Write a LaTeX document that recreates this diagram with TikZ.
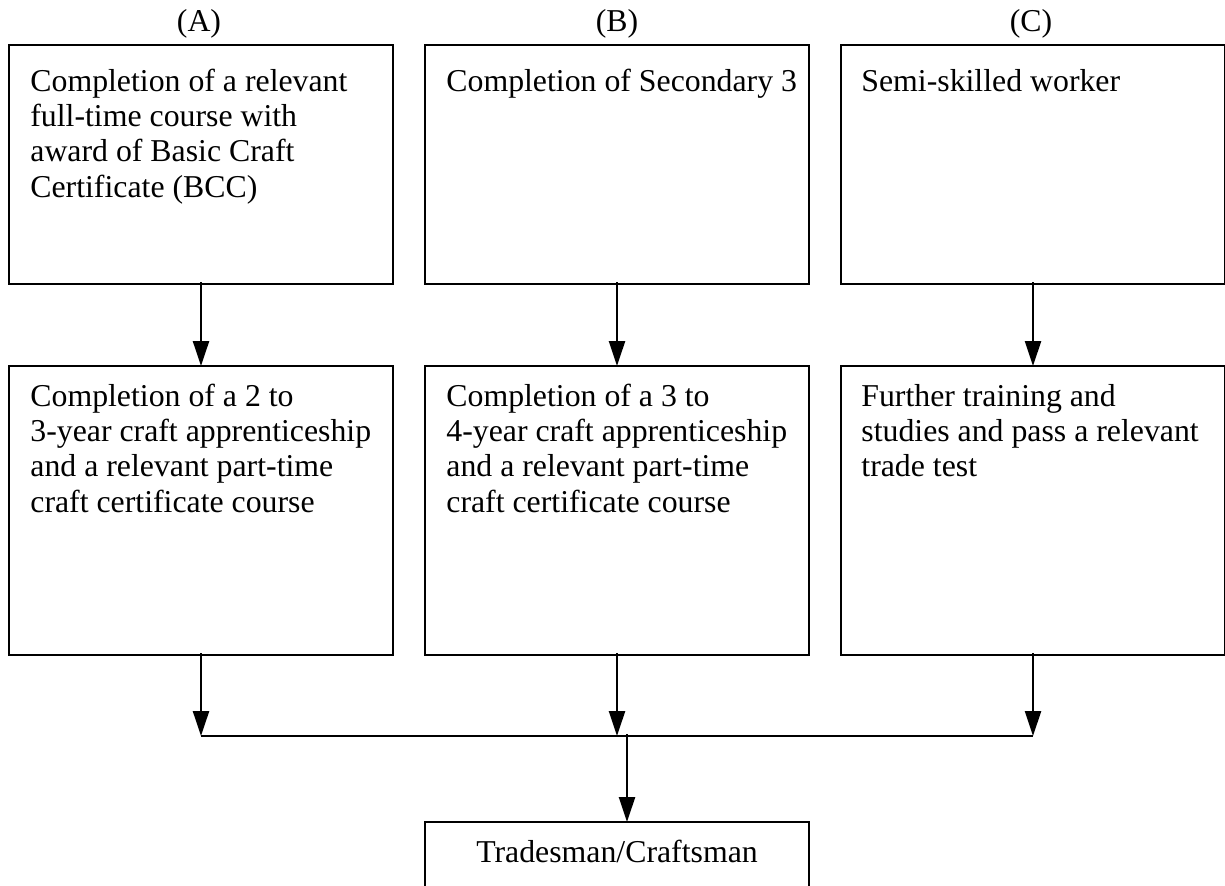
\documentclass[tikz,border=0pt]{standalone}
\usepackage{fontspec}
\setmainfont{Liberation Serif}
\usetikzlibrary{arrows.meta,calc}
\tikzset{
  box/.style={draw, line width=1pt, minimum width=192pt, inner sep=0pt, outer sep=0pt},
  topbox/.style={box, minimum height=119.5pt, anchor=north west},
  midbox/.style={box, minimum height=144.5pt, anchor=north west},
  txt/.style={inner sep=0pt, align=left, anchor=base west, font=\fontsize{15.9}{17.7}\selectfont},
  nlines/.style={yshift=-(#1-1)*17.7pt},
  lbl/.style={inner sep=0pt, anchor=base, font=\fontsize{15.9}{17.7}\selectfont},
  arr/.style={line width=1.2pt, -{Triangle[length=12.5pt, width=8pt]}, shorten <=-1pt},
  line/.style={line width=1pt}
}
\begin{document}
\begin{tikzpicture}[x=0.5pt, y=-0.5pt]
\useasboundingbox (0,0) rectangle (1225,885);
\clip (0,0) rectangle (1225,885);
% column labels
\node[lbl] (la) at (199,31) {(A)};
\node[lbl] (lb) at (617,31) {(B)};
\node[lbl] (lc) at (1031,31) {(C)};
% top row
\node[topbox] (a1) at (9,45) {};
\node[topbox] (b1) at (425,45) {};
\node[topbox] (c1) at (841,45) {};
% middle row
\node[midbox] (a2) at (9,366) {};
\node[midbox] (b2) at (425,366) {};
\node[midbox] (c2) at (841,366) {};
% bottom box (bottom edge lies outside the picture)
\node[box, minimum height=60pt, anchor=north west] (d) at (425,822) {};
% texts
\node[txt, nlines=4] (ta1) at ($(a1.north west)+(21,46)$) {Completion of a relevant\\full-time course with\\award of Basic Craft\\Certificate (BCC)};
\node[txt] (tb1) at ($(b1.north west)+(21,46)$) {Completion of Secondary 3};
\node[txt] (tc1) at ($(c1.north west)+(20,46)$) {Semi-skilled worker};
\node[txt, nlines=4] (ta2) at ($(a2.north west)+(21,40)$) {Completion of a 2 to\\3-year craft apprenticeship\\and a relevant part-time\\craft certificate course};
\node[txt, nlines=4] (tb2) at ($(b2.north west)+(21,40)$) {Completion of a 3 to\\4-year craft apprenticeship\\and a relevant part-time\\craft certificate course};
\node[txt, nlines=3] (tc2) at ($(c2.north west)+(20,40)$) {Further training and\\studies and pass a relevant\\trade test};
\node[lbl] (td) at (617,862) {Tradesman/Craftsman};
% junction coordinates
\coordinate (ja) at (201,736);
\coordinate (jb) at (617,736);
\coordinate (jc) at (1033,736);
\coordinate (jm) at (627,736);
% arrows
\draw[arr] (a1.south) -- (a2.north);
\draw[arr] (b1.south) -- (b2.north);
\draw[arr] (c1.south) -- (c2.north);
\draw[arr] (a2.south) -- (ja);
\draw[arr] (b2.south) -- (jb);
\draw[arr] (c2.south) -- (jc);
\draw[line] (ja) -- (jc);
\draw[arr] (jm) -- (jm |- d.north);
\end{tikzpicture}
\end{document}
